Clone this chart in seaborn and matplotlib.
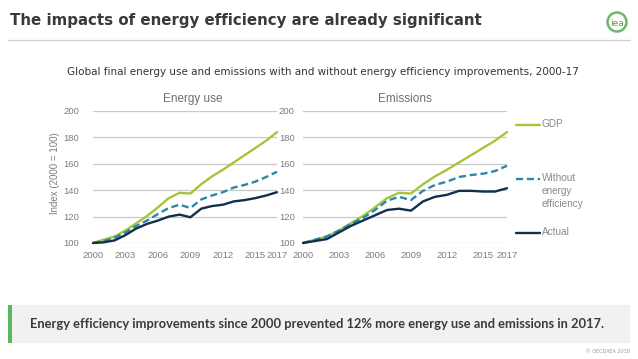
import matplotlib
matplotlib.use("Agg")
import matplotlib.pyplot as plt
from matplotlib.lines import Line2D
from matplotlib.patches import Rectangle, Circle
import pandas as pd
import seaborn as sns

# Data (index, 2000 = 100)
years = list(range(2000, 2018))
gdp = [100, 102.5, 105, 109.5, 115, 120.5, 127, 134, 138, 137.5,
       144.5, 150.5, 155.5, 161, 166.5, 172, 177.5, 184]
energy_without = [100, 101.5, 104, 108, 113, 117, 122, 126.5, 129, 126.5,
                  133, 136, 138.5, 142, 144, 146.5, 150, 154]
energy_actual = [100, 100.5, 102, 106, 111, 114.5, 117, 120, 121.5, 119.5,
                 126, 128, 129, 131.5, 132.5, 134, 136, 138.5]
emis_without = [100, 102.5, 105, 109.5, 114.5, 119, 125, 132, 135, 132.5,
                139.5, 144, 146.5, 150, 151.5, 152.5, 154.5, 158.5]
emis_actual = [100, 101.5, 103, 108, 113, 117, 121, 125, 126, 124.5,
               131.5, 135, 136.5, 139.5, 139.5, 139, 139, 141.5]
xticks = [2000, 2003, 2006, 2009, 2012, 2015, 2017]
yticks = [100, 120, 140, 160, 180, 200]

GREEN = "#a3c63c"
TEAL = "#2a87aa"
NAVY = "#112f4e"
GRID = "#c8c8c8"
TICK = "#7d7d7d"

sns.set_style("white")
plt.rcParams["font.family"] = ["Liberation Sans", "DejaVu Sans"]

fig = plt.figure(figsize=(6.38, 3.59), dpi=100)
W, H = 638, 359


def px(x0, y0, w, h):
    # pixel box (top-left origin) -> figure fraction
    return [x0 / W, 1 - (y0 + h) / H, w / W, h / H]


ax1 = fig.add_axes(px(93, 111, 184, 132))
ax2 = fig.add_axes(px(303, 111, 204, 132))

panels = [(ax1, energy_without, energy_actual, 10),
          (ax2, emis_without, emis_actual, 6)]
for ax, without, actual, ypad in panels:
    df = pd.DataFrame({"year": years, "gdp": gdp, "without": without, "actual": actual})
    sns.lineplot(data=df, x="year", y="gdp", ax=ax, color=GREEN, lw=1.7, clip_on=False)
    sns.lineplot(data=df, x="year", y="without", ax=ax, color=TEAL, lw=1.7,
                 dashes=(3, 1.6), clip_on=False)
    sns.lineplot(data=df, x="year", y="actual", ax=ax, color=NAVY, lw=1.7, clip_on=False)
    ax.set_xlim(2000, 2017)
    ax.set_ylim(100, 200)
    ax.set_xticks(xticks)
    ax.set_yticks(yticks)
    ax.yaxis.grid(True, color=GRID, lw=0.9)
    ax.set_axisbelow(True)
    for s in ax.spines.values():
        s.set_visible(False)
    ax.tick_params(axis="both", length=0, labelsize=6.8, colors=TICK)
    ax.tick_params(axis="y", pad=ypad)
    ax.tick_params(axis="x", pad=6)
    ax.set_xlabel("")
    ax.set_ylabel("")

ax1.set_ylabel("Index (2000 = 100)", fontsize=7, color=TICK)
ax1.yaxis.set_label_coords(-0.18, 0.53)

fig.text(193 / W, 1 - 99 / H, "Energy use", ha="center", va="center", fontsize=8.5, color="#6e6e6e")
fig.text(405 / W, 1 - 99 / H, "Emissions", ha="center", va="center", fontsize=8.5, color="#6e6e6e")

# legend drawn by hand on the right
leg = [(125, GREEN, "-", "GDP"), (179, TEAL, "--", "Without\nenergy\nefficiency"),
       (233, NAVY, "-", "Actual")]
for y, c, ls, lab in leg:
    fig.add_artist(Line2D([516 / W, 540 / W], [1 - y / H, 1 - y / H], color=c, lw=1.7,
                          ls=ls, dashes=(3, 1.6) if ls == "--" else (None, None)))
    fig.text(542 / W, 1 - (y - 6) / H, lab, ha="left", va="top", fontsize=7.2,
             color="#8a8a8a", linespacing=1.4)

# title and header
fig.text(10 / W, 1 - 21 / H, "The impacts of energy efficiency are already significant",
         ha="left", va="center", fontsize=10.8, fontweight="bold", color="#3a3a3a",
         family=["DejaVu Sans"])
fig.add_artist(Line2D([8 / W, 630 / W], [1 - 40 / H, 1 - 40 / H], color="#d0d0d0", lw=0.9))
logo = Circle((617, H - 22), 9.5, transform=None, fill=False, ec="#6cb86a", lw=1.8)
fig.add_artist(logo)
fig.text(617 / W, 1 - 23 / H, "iea", ha="center", va="center", fontsize=6.5,
         color="#4f9a4c", family=["DejaVu Sans"])

fig.text(323 / W, 1 - 72 / H,
         "Global final energy use and emissions with and without energy efficiency improvements, 2000-17",
         ha="center", va="center", fontsize=7.45, color="#333333", family=["DejaVu Sans"])

# bottom message box
fig.add_artist(Rectangle((8 / W, 1 - 343 / H), 622 / W, 38 / H, transform=fig.transFigure,
                         fc="#f1f1f1", ec="none"))
fig.add_artist(Rectangle((8 / W, 1 - 343 / H), 3.5 / W, 38 / H, transform=fig.transFigure,
                         fc="#5cb85c", ec="none"))
fig.text(30 / W, 1 - 324 / H,
         "Energy efficiency improvements since 2000 prevented 12% more energy use and emissions in 2017.",
         ha="left", va="center", fontsize=9.3, fontweight="bold", color="#3a3a3a",
         family=["Lato", "DejaVu Sans"])
fig.text(630 / W, 1 - 352 / H, "© OECD/IEA 2018", ha="right", va="center", fontsize=3.5,
         color="#999999", family=["DejaVu Sans"])

fig.savefig("out.png", dpi=100)
